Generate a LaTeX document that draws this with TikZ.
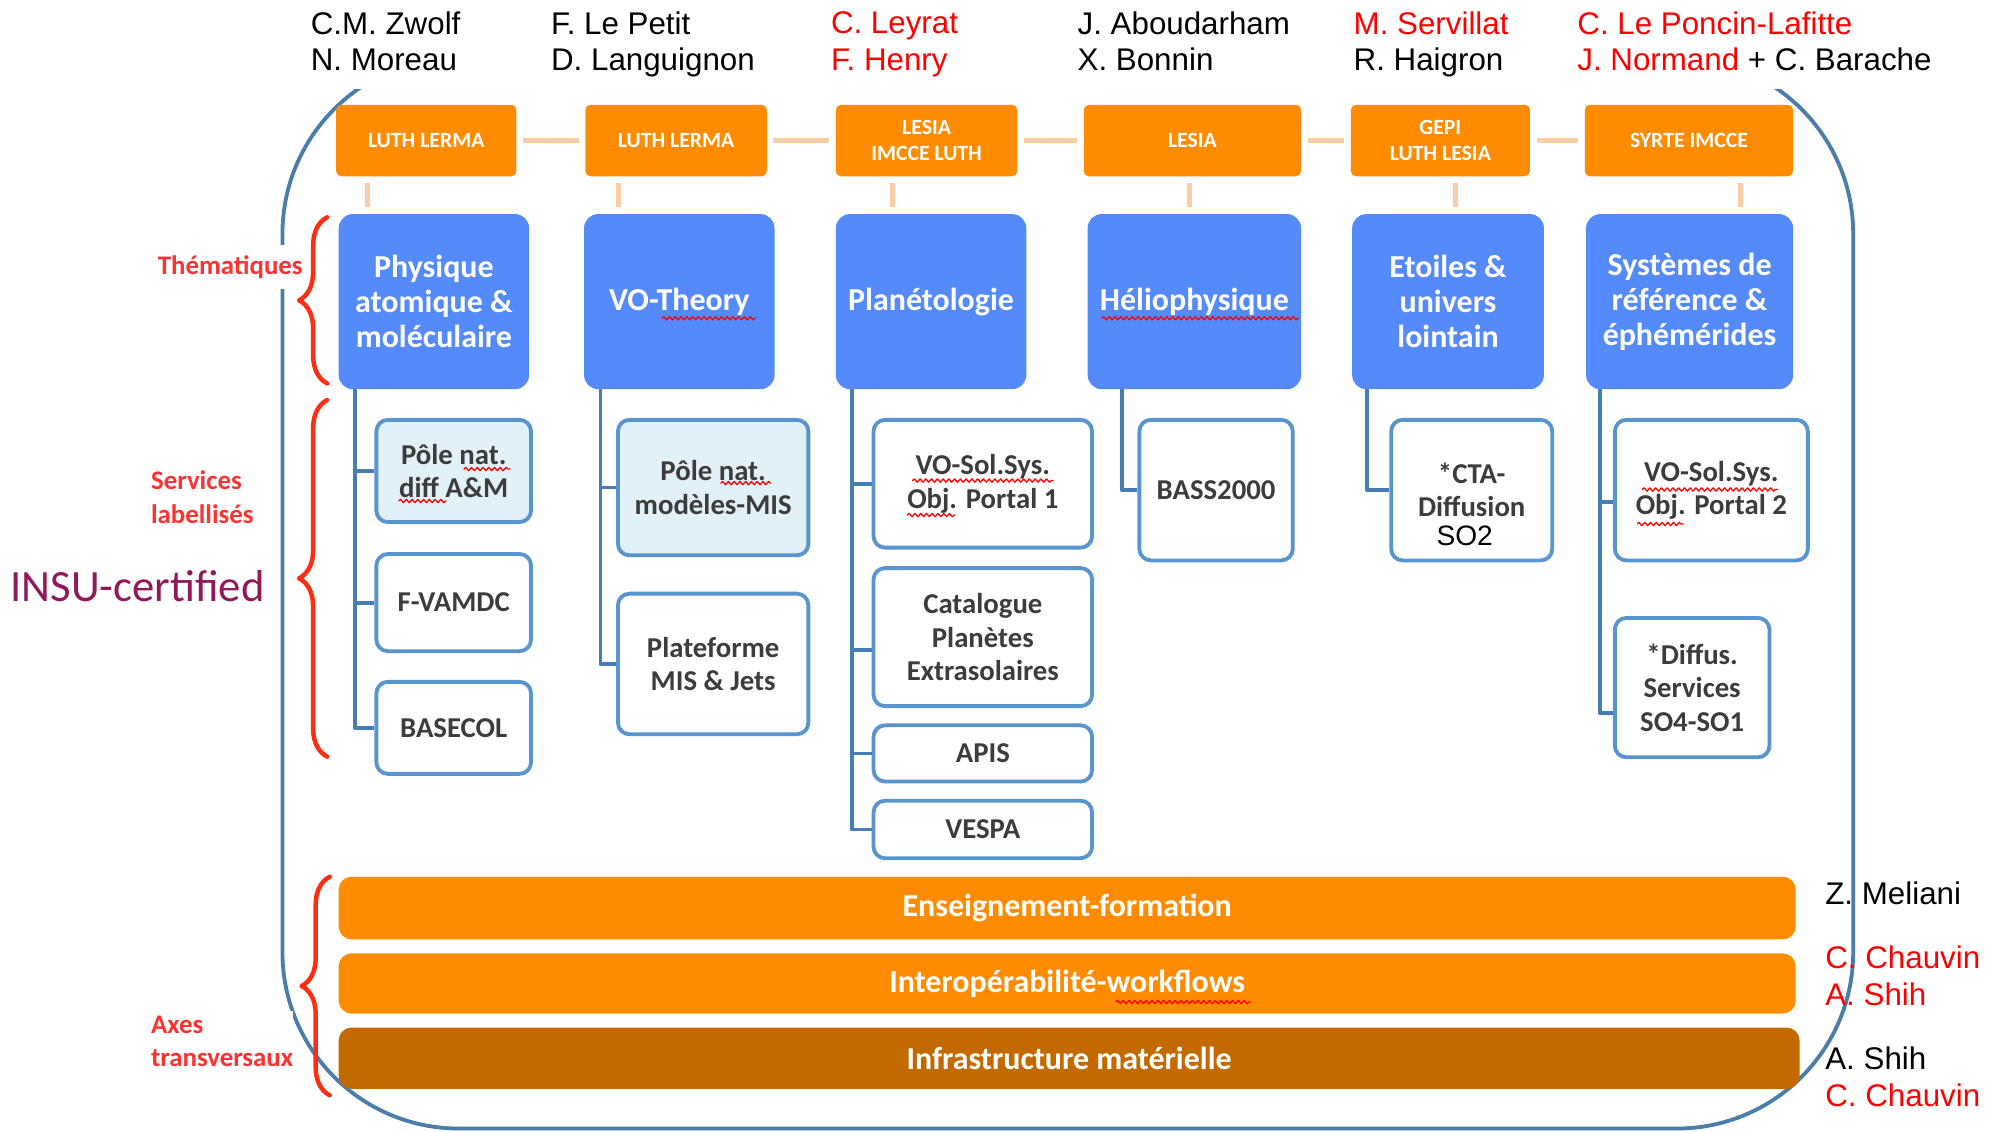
\documentclass[tikz,border=0pt]{standalone}
\usepackage{fontspec}
\setmainfont{Carlito}
\newfontfamily\arialfont{Liberation Sans}
\usetikzlibrary{decorations.pathreplacing,decorations.pathmorphing}
\definecolor{orgorange}{RGB}{255,140,0}
\definecolor{infra}{RGB}{194,106,0}
\definecolor{thblue}{RGB}{85,138,250}
\definecolor{svcline}{RGB}{88,148,205}
\definecolor{svclight}{RGB}{226,240,248}
\definecolor{svctext}{RGB}{60,60,60}
\definecolor{treeline}{RGB}{70,125,180}
\definecolor{framecol}{RGB}{75,125,170}
\definecolor{peach}{RGB}{252,205,165}
\definecolor{bracered}{RGB}{255,45,20}
\definecolor{labelred}{RGB}{255,50,50}
\definecolor{insu}{RGB}{145,25,90}
\begin{document}
\begin{tikzpicture}[x=1pt,y=-1pt,line join=round,line cap=round,
  org/.style={fill=orgorange,rounded corners=4pt,text=white,font=\bfseries\fontsize{17}{20}\selectfont,align=center,inner sep=0pt,minimum height=56pt},
  theme/.style={fill=thblue,rounded corners=11pt,text=white,font=\bfseries\fontsize{25}{27.5}\selectfont,align=center,inner sep=0pt,minimum height=137pt},
  svc/.style={draw=svcline,line width=3pt,fill=white,rounded corners=9pt,text=svctext,font=\bfseries\fontsize{22.5}{26}\selectfont,align=center,inner sep=0pt},
  pole/.style={svc,fill=svclight},
  axis/.style={fill=orgorange,rounded corners=10pt,text=white,font=\bfseries\fontsize{25}{28}\selectfont,inner sep=0pt,minimum width=1140pt},
  tree/.style={draw=treeline,line width=3pt,line cap=butt},
  link/.style={draw=peach,line width=4pt,line cap=butt,shorten <=5pt,shorten >=5pt},
  brc/.style={draw=bracered,line width=3.5pt,decorate,decoration={brace,amplitude=22pt}},
  lbl/.style={text=labelred,font=\bfseries\fontsize{21}{26}\selectfont,align=left,inner sep=0pt},
  who/.style={font=\arialfont\fontsize{24.5}{28.5}\selectfont,align=left,inner sep=0pt,anchor=north west},
  spell/.style={draw=red,line width=1pt,decorate,decoration={snake,amplitude=1.3pt,segment length=4.5pt}}]
\useasboundingbox (0,0) rectangle (1568,885);
\begin{scope}
  \clip (0,70) rectangle (1568,885);
  \draw[framecol,line width=3pt,rounded corners=138pt] (221,45) rectangle (1450,883);
\end{scope}

\node[lbl,fill=white,inner ysep=8pt,anchor=east] (lthem) at (237,209) {Thématiques};
\node[lbl,anchor=west] (lserv) at (118,389) {Services\\labellisés};
\node[lbl,fill=white,inner ysep=4pt,anchor=west] (laxes) at (118,815) {Axes\\transversaux};
\node[font=\fontsize{35}{40}\selectfont,text=insu,anchor=west,inner sep=0pt] (insu) at (8,459) {INSU-certified};
\draw[brc] (256,300) -- (256,170);
\draw[brc] (256,592) -- (256,313);
\draw[brc] (258,857) -- (258,686);

\node[org,minimum width=141pt] (o1) at (333.5,110) {LUTH LERMA};
\node[org,minimum width=142pt] (o2) at (529,110) {LUTH LERMA};
\node[org,minimum width=142pt] (o3) at (725,110) {LESIA\\IMCCE LUTH};
\node[org,minimum width=170pt] (o4) at (933,110) {LESIA};
\node[org,minimum width=140pt] (o5) at (1127,110) {GEPI\\LUTH LESIA};
\node[org,minimum width=163pt] (o6) at (1321.5,110) {SYRTE IMCCE};

\node[theme,minimum width=149pt] (t1) at (339.5,236) {Physique\\atomique \&\\moléculaire};
\node[theme,minimum width=149pt] (t2) at (531.5,236) {VO-Theory};
\node[theme,minimum width=149pt] (t3) at (728.5,236) {Planétologie};
\node[theme,minimum width=167pt] (t4) at (934.5,236) {Héliophysique};
\node[theme,minimum width=150pt] (t5) at (1133,236) {Etoiles \&\\univers\\lointain};
\node[theme,minimum width=162pt] (t6) at (1322,236) {Systèmes de\\référence \&\\éphémérides};

\node[pole,minimum width=121pt,minimum height=80pt] (s11) at (355,368.5) {Pôle nat.\\diff A\&M};
\node[svc,minimum width=121pt,minimum height=76pt] (s12) at (355,471.5) {F-VAMDC};
\node[svc,minimum width=121pt,minimum height=72pt] (s13) at (355,569.5) {BASECOL};
\node[pole,minimum width=149pt,minimum height=106pt] (s21) at (558,381.5) {Pôle nat.\\modèles-MIS};
\node[svc,minimum width=149pt,minimum height=110pt] (s22) at (558,519.5) {Plateforme\\MIS \& Jets};
\node[svc,minimum width=171pt,minimum height=100pt] (s31) at (769,378.5) {VO-Sol.Sys.\\Obj. Portal 1};
\node[svc,minimum width=171pt,minimum height=108pt] (s32) at (769,498.5) {Catalogue\\Planètes\\Extrasolaires};
\node[svc,minimum width=171pt,minimum height=44pt] (s33) at (769,589.5) {APIS};
\node[svc,minimum width=171pt,minimum height=45pt] (s34) at (769,649) {VESPA};
\node[svc,minimum width=120pt,minimum height=110pt] (s41) at (951.5,383.5) {BASS2000};
\node[svc,minimum width=126pt,minimum height=110pt] (s51) at (1151.5,383.5) {*CTA-\\Diffusion};
\node[font=\arialfont\fontsize{22}{24}\selectfont,inner sep=0pt] (so2) at (1146,419) {SO2};
\node[svc,minimum width=151pt,minimum height=110pt] (s61) at (1339,383.5) {VO-Sol.Sys.\\Obj. Portal 2};
\node[svc,minimum width=121pt,minimum height=109pt] (s62) at (1324,538) {*Diffus.\\Services\\SO4-SO1};

\node[axis,minimum height=49pt] (b1) at (835,710.5) {Enseignement-formation};
\node[axis,minimum height=47pt] (b2) at (835,769.5) {Interopérabilité-workflows};
\node[axis,fill=infra,minimum width=1143pt,minimum height=48pt] (b3) at (836.5,828) {Infrastructure matérielle};

\foreach \a/\b in {o1/o2,o2/o3,o3/o4,o4/o5,o5/o6}
  \draw[link] (\a.east) -- (\b.west);
\foreach \a/\b/\s in {o1/t1/-46,o2/t2/-45,o3/t3/-27,o4/t4/-2,o5/t5/12,o6/t6/40}
  \draw[link] ([xshift=\s pt]\a.south) -- ([xshift=\s pt]\a.south |- \b.north);
\foreach \t/\s/\d/\e in {t1/s11/13/0,t1/s12/13/0,t1/s13/13/0,t2/s21/13/0,t2/s22/13/0,
    t3/s31/13/0,t3/s32/13/-10,t3/s33/13/0,t3/s34/13/0,t4/s41/27/0,t5/s51/12/0,t6/s61/11/-9,t6/s62/11/-20}
  \draw[tree] ([xshift=\d pt]\t.south west) |- ([yshift=\e pt]\s.west);

\draw[spell] (518,249) -- (591,249);
\draw[spell] (862,249) -- (1016,249);
\draw[spell] (363,367) -- (399,367);
\draw[spell] (312,392) -- (349,392);
\draw[spell] (564,378) -- (603,378);
\draw[spell] (714,376) -- (824,376);
\draw[spell] (710,403) -- (747,403);
\draw[spell] (1285,383) -- (1391,383);
\draw[spell] (1281,410) -- (1317,410);
\draw[spell] (873,784) -- (978,784);

\node[who] (n1) at (243,9) {C.M. Zwolf\\N. Moreau};
\node[who] (n2) at (431,9) {F. Le Petit\\D. Languignon};
\node[who,text=red] (n3) at (650,9) {C. Leyrat\\F. Henry};
\node[who] (n4) at (843,9) {J. Aboudarham\\X. Bonnin};
\node[who] (n5) at (1059,9) {\textcolor{red}{M. Servillat}\\R. Haigron};
\node[who] (n6) at (1234,9) {\textcolor{red}{C. Le Poncin-Lafitte}\\\textcolor{red}{J. Normand} + C. Barache};
\node[who] (m1) at (1428,690) {Z. Meliani};
\node[who,text=red] (m2) at (1428,740) {C. Chauvin\\A. Shih};
\node[who] (m3) at (1428,819) {A. Shih\\\textcolor{red}{C. Chauvin}};
\end{tikzpicture}
\end{document}
